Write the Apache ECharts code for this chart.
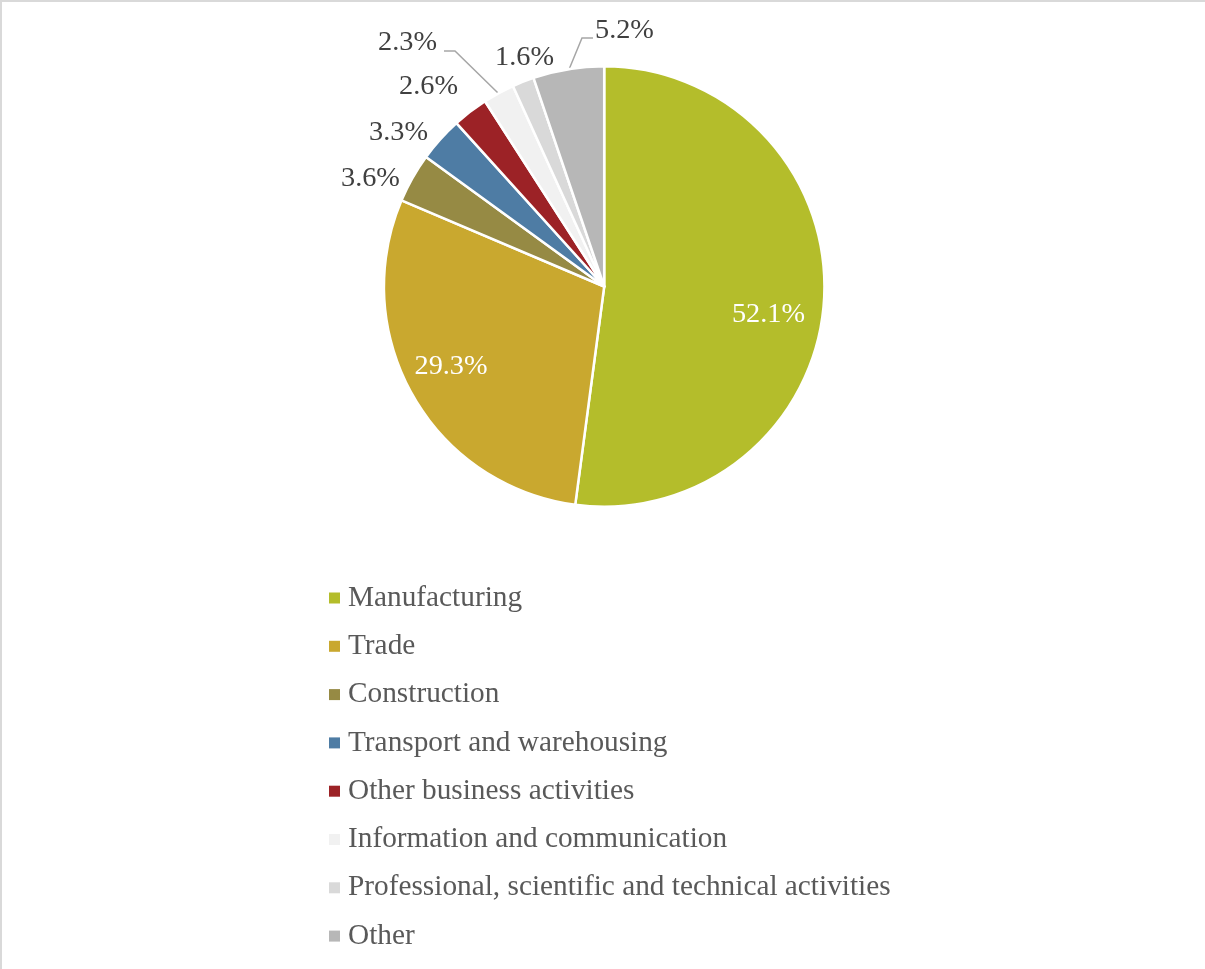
<!DOCTYPE html>
<html>
<head>
<meta charset="utf-8">
<script src="https://cdn.jsdelivr.net/npm/echarts@6/dist/echarts.min.js"></script>
<style>
html,body{margin:0;padding:0;background:#fff;}
#chart{width:1205px;height:969px;}
</style>
</head>
<body>
<div id="chart"></div>
<script>
// ---- data ----
const categories = [
  'Manufacturing',
  'Trade',
  'Construction',
  'Transport and warehousing',
  'Other business activities',
  'Information and communication',
  'Professional, scientific and technical activities',
  'Other'
];
const values = [52.1, 29.3, 3.6, 3.3, 2.6, 2.3, 1.6, 5.2];

// ---- style ----
const colors = ['#B4BD2B', '#C9A82F', '#968A44', '#4E7CA4', '#9C2226', '#F1F1F1', '#D9D9D9', '#B7B7B7'];
const FONT = "'Times New Roman', 'Liberation Serif', serif";
const CX = 604.2, CY = 286.5, R = 219;
const LABEL_DY = 2.8;
// label placement relative to slice anchor ('inner' = 0.75 R on mid-angle, 'edge' = outer edge on mid-angle)
const placement = [
  {from: 'inner', dx: 0.4, dy: 14.7, align: 'center'},
  {from: 'inner', dx: -10.5, dy: -4, align: 'center'},
  {from: 'edge', dx: -13.7, dy: -2.5, align: 'right'},
  {from: 'edge', dx: -13.3, dy: -10.2, align: 'right'},
  {from: 'edge', dx: -13.1, dy: -28.6, align: 'right'},
  {from: 'edge', dx: -62.3, dy: -54.3, align: 'right', line: [[-44.3, -43.3], [-55.3, -43.3]]},
  {from: 'edge', dx: 0.9, dy: -28, align: 'center'},
  {from: 'edge', dx: 26.4, dy: -42.4, align: 'left', line: [[13.4, -32.4], [24.4, -32.4]]}
];

const total = values.reduce((a, b) => a + b, 0);
function midAngle(i) {
  let s = 0;
  for (let k = 0; k < i; k++) s += values[k];
  return (s + values[i] / 2) / total * Math.PI * 2;
}

const data = categories.map((name, i) => {
  const p = placement[i];
  const inside = p.from === 'inner';
  return {
    name: name,
    value: values[i],
    itemStyle: {color: colors[i]},
    label: {color: inside ? '#FFFFFF' : '#404040'},
    labelLine: {show: !!p.line, length: 10, length2: 10}
  };
});

const chart = echarts.init(document.getElementById('chart'), null, {renderer: 'canvas'});
chart.setOption({
  animation: false,
  backgroundColor: '#FFFFFF',
  graphic: [
    {type: 'rect', shape: {x: 0, y: 0, width: 1205, height: 2}, style: {fill: '#D9D9D9'}, silent: true},
    {type: 'rect', shape: {x: 0, y: 0, width: 2, height: 969}, style: {fill: '#D9D9D9'}, silent: true}
  ],
  legend: {
    orient: 'vertical',
    left: 329,
    top: 583.5,
    padding: 0,
    icon: 'rect',
    itemWidth: 11,
    itemHeight: 11,
    itemGap: 19.3,
    selectedMode: false,
    itemStyle: {borderWidth: 0},
    data: categories,
    textStyle: {fontSize: 29.3, fontFamily: FONT, color: '#595959', lineHeight: 28, padding: [0, 0, 0, 3]}
  },
  series: [{
    type: 'pie',
    center: [CX, CY],
    radius: R + 1.25,
    startAngle: 90,
    clockwise: true,
    avoidLabelOverlap: false,
    itemStyle: {borderColor: '#FFFFFF', borderWidth: 2.5},
    label: {
      show: true,
      position: 'outside',
      fontSize: 28.3,
      fontFamily: FONT,
      formatter: p => p.value.toFixed(1) + '%'
    },
    labelLine: {show: false, lineStyle: {color: '#A6A6A6', width: 1.5}},
    emphasis: {disabled: true},
    labelLayout: function (params) {
      const i = params.dataIndex;
      const p = placement[i];
      const a = midAngle(i);
      const sx = Math.sin(a), sy = -Math.cos(a);
      const rr = p.from === 'inner' ? R * 0.75 : R;
      const ax = CX + sx * rr, ay = CY + sy * rr;
      const out = {x: ax + p.dx, y: ay + p.dy + LABEL_DY, align: p.align, verticalAlign: 'middle'};
      if (p.line) {
        out.labelLinePoints = [[ax, ay], [ax + p.line[0][0], ay + p.line[0][1]], [ax + p.line[1][0], ay + p.line[1][1]]];
      }
      return out;
    },
    data: data
  }]
});
</script>
</body>
</html>
